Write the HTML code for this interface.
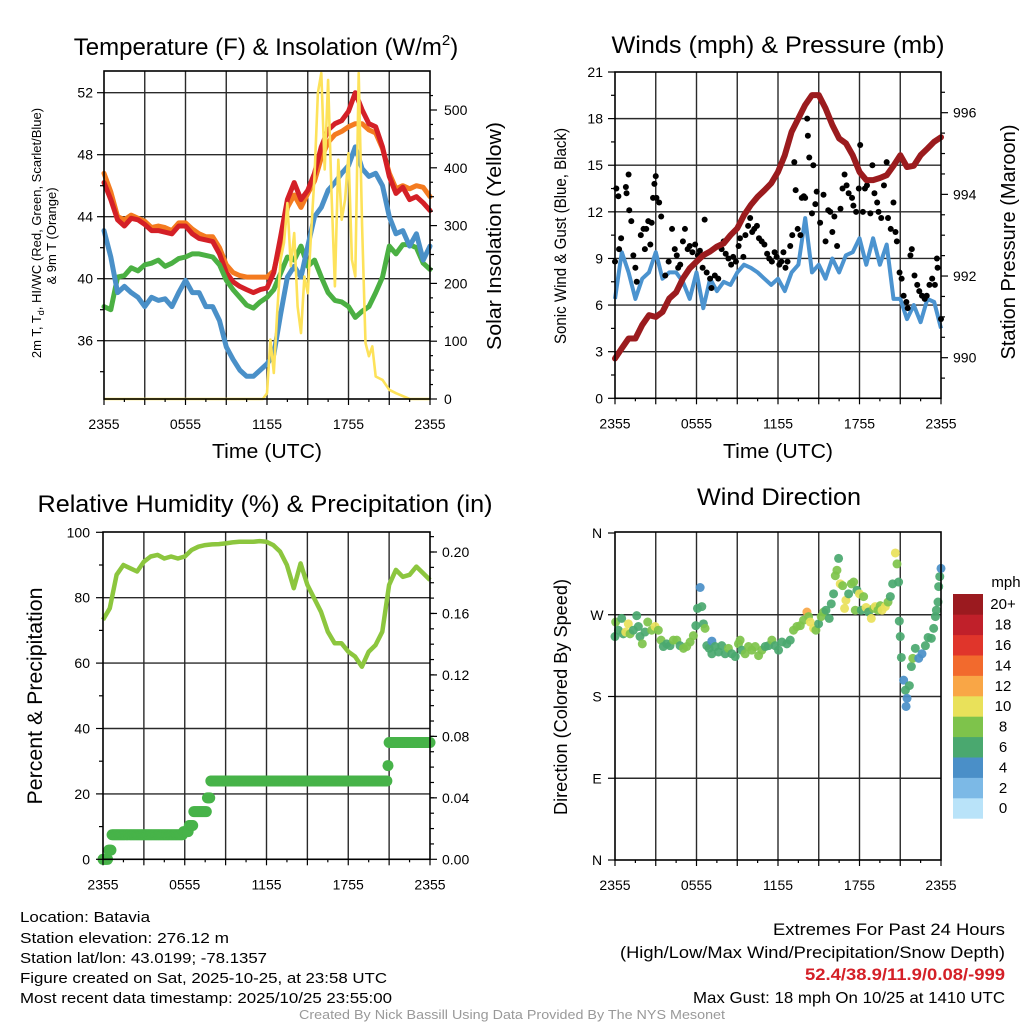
<!DOCTYPE html>
<html><head><meta charset="utf-8"><style>
html,body{margin:0;padding:0;background:#fff;}
svg{display:block;font-family:"Liberation Sans",Arial,sans-serif;}
</style></head><body>
<svg id="fig" width="1024" height="1024" viewBox="0 0 1024 1024" xmlns="http://www.w3.org/2000/svg">
<g id="g1"></g>
<g id="g2"></g>
<g id="g3"></g>
<g id="g4"></g>
<g id="footer">
<text x="20" y="922" font-size="15" lengthAdjust="spacingAndGlyphs" textLength="130">Location: Batavia</text>
<text x="20" y="943" font-size="15" lengthAdjust="spacingAndGlyphs" textLength="209">Station elevation: 276.12 m</text>
<text x="20" y="963" font-size="15" lengthAdjust="spacingAndGlyphs" textLength="247">Station lat/lon: 43.0199; -78.1357</text>
<text x="20" y="983" font-size="15" lengthAdjust="spacingAndGlyphs" textLength="367">Figure created on Sat, 2025-10-25, at 23:58 UTC</text>
<text x="20" y="1003" font-size="15" lengthAdjust="spacingAndGlyphs" textLength="372">Most recent data timestamp: 2025/10/25 23:55:00</text>
<text x="1005" y="935" font-size="16.5" text-anchor="end" lengthAdjust="spacingAndGlyphs" textLength="232">Extremes For Past 24 Hours</text>
<text x="1005" y="958" font-size="16.5" text-anchor="end" lengthAdjust="spacingAndGlyphs" textLength="385">(High/Low/Max Wind/Precipitation/Snow Depth)</text>
<text x="1005" y="980" font-size="16.5" font-weight="bold" fill="#d42027" text-anchor="end" lengthAdjust="spacingAndGlyphs" textLength="200">52.4/38.9/11.9/0.08/-999</text>
<text x="1005" y="1003" font-size="16" text-anchor="end" lengthAdjust="spacingAndGlyphs" textLength="312">Max Gust: 18 mph On 10/25 at 1410 UTC</text>
<text x="512" y="1019" font-size="13" fill="#999" text-anchor="middle" lengthAdjust="spacingAndGlyphs" textLength="426">Created By Nick Bassill Using Data Provided By The NYS Mesonet</text>
</g>
</svg>
<script>
// ---------- DATA ----------
const halfHours = [0,0.5,1,1.5,2,2.5,3,3.5,4,4.5,5,5.5,6,6.5,7,7.5,8,8.5,9,9.5,10,10.5,11,11.5,12,12.5,13,13.5,14,14.5,15,15.5,16,16.5,17,17.5,18,18.5,19,19.5,20,20.5,21,21.5,22,22.5,23,23.5,24];
const xTickLabels = ["2355","0555","1155","1755","2355"];
const tempRed = [46.2,45.1,43.8,43.4,43.9,43.8,43.5,43.1,43.1,43.0,42.9,43.4,43.4,42.9,42.6,42.5,42.4,41.6,40.4,39.8,39.5,39.3,39.1,39.3,39.4,40.4,42.7,45.1,46.2,45.1,45.7,46.8,48.5,49.6,50.0,50.2,50.8,52.0,50.9,50.0,49.8,48.5,46.6,45.5,45.9,45.1,45.3,44.9,44.4];
const tempOrange = [46.8,45.6,44.0,43.8,44.1,43.9,43.7,43.3,43.4,43.3,43.1,43.6,43.6,43.2,42.9,42.7,42.7,42.0,40.9,40.4,40.2,40.1,40.1,40.1,40.1,40.5,42.3,44.6,45.4,44.6,45.5,46.3,47.8,48.8,49.3,49.5,49.8,50.0,50.0,49.6,49.4,48.4,46.8,45.8,46.0,45.8,46.0,45.9,45.3];
const tempGreen = [38.2,38.0,40.1,40.2,40.7,40.5,40.9,41.0,41.2,40.8,41.0,41.3,41.4,41.6,41.6,41.5,41.4,40.9,39.9,39.3,38.8,38.3,38.1,38.5,38.8,39.3,40.35,41.4,41.2,42.1,40.8,41.2,40.1,39.1,38.6,38.5,38.2,37.5,37.9,38.2,39.1,40.1,42.1,41.6,42.2,42.2,42.0,41.0,40.6];
const tempBlue = [43.1,41.4,39.1,39.5,39.1,38.8,38.2,38.8,38.6,38.7,38.2,39.1,39.9,39.1,39.1,38.2,38.2,37.3,35.6,34.8,34.1,33.7,33.7,34.1,34.5,35.1,37.7,40.1,40.8,40.1,42.1,44.0,44.6,45.7,46.2,46.8,47.3,48.5,47.1,46.6,46.8,46.0,44.0,42.9,43.1,42.1,42.9,41.2,42.1];
const solarHours = [0,11.7,12,12.25,12.5,12.75,13,13.25,13.5,13.75,14,14.25,14.5,14.75,15,15.25,15.5,15.75,16,16.25,16.5,16.75,17,17.25,17.5,17.75,18,18.25,18.5,18.75,19,19.25,19.5,19.75,20,20.5,21,21.5,22,22.5,24];
const solarValues = [0,0,10,103,45,150,241,270,339,230,287,160,114,212,183,287,385,530,564,397,552,356,195,414,310,345,425,241,212,564,299,97,74,91,39,33,16,10,5,0,0];
const tempTicks = [36,40,44,48,52];
const solarTicks = [0,100,200,300,400,500];

const pressure = [989.98,990.23,990.47,990.47,990.8,991.04,991.0,991.12,991.45,991.6,991.94,992.19,992.35,992.51,992.6,992.72,992.8,993.0,993.17,993.49,993.74,993.94,994.1,994.27,994.55,994.96,995.53,995.86,996.19,996.43,996.43,996.11,995.7,995.37,995.25,994.96,994.55,994.35,994.35,994.4,994.47,994.7,994.96,994.67,994.7,994.96,995.12,995.29,995.4];
const sonicWind = [6.4,9.4,8.1,6.4,7.7,8.1,9.4,7.7,8.1,8.1,7.5,6.4,8.1,5.8,7.7,6.9,7.5,7.3,8.1,8.6,8.4,8.1,7.7,7.3,7.7,6.9,8.1,8.6,11.6,8.1,8.6,7.7,9.0,8.1,9.2,9.4,10.3,8.6,10.3,8.6,9.9,6.4,6.4,5.1,6.0,4.9,6.4,6.2,4.5];
const gustHours = [0,0.1,0.25,0.3,0.45,0.8,0.85,1,1.05,1.2,1.35,1.5,1.6,1.9,2.1,2.2,2.3,2.45,2.6,2.7,2.8,2.9,3,3.05,3.25,3.4,3.7,3.95,4.2,4.4,4.55,4.65,4.8,5,5.15,5.35,5.5,5.7,5.9,6.1,6.25,6.45,6.6,6.75,7,7.1,7.35,7.6,7.85,8,8.15,8.35,8.55,8.7,8.9,9.1,9.2,9.45,9.6,9.8,9.95,10.1,10.25,10.45,10.6,10.8,11,11.2,11.35,11.55,11.75,11.9,12.1,12.25,12.4,12.55,12.7,12.9,13.05,13.2,13.3,13.45,13.65,13.75,13.9,14,14.15,14.2,14.3,14.5,14.6,14.75,14.85,15.1,15.35,15.5,15.7,15.85,16,16.15,16.35,16.6,16.75,16.9,17.05,17.2,17.45,17.55,17.75,17.95,18.05,18.25,18.4,18.55,18.8,18.95,19.1,19.3,19.4,19.6,19.8,20,20.1,20.3,20.5,20.65,20.75,20.95,21.1,21.25,21.45,21.55,21.75,21.85,22.05,22.25,22.4,22.6,22.8,22.95,23.15,23.35,23.55,23.7,23.75,24];
const gustValues = [8.8,13.5,13.0,9.6,10.3,13.6,13.2,14.4,12.1,11.4,9.2,8.4,7.5,10.5,10.9,9.6,10.9,11.4,9.9,11.3,12.9,13.8,14.3,12.9,12.6,11.7,7.9,8.8,10.9,9.6,9.2,8.4,8.6,10.1,10.9,9.6,9.8,9.4,9.9,9.2,9.5,8.4,11.5,8.1,7.7,7.1,7.9,7.7,9.6,10.1,9.3,9.0,8.6,9.1,8.8,9.8,10.3,9.1,10.5,11.1,11.6,10.7,10.9,11.1,10.3,10.1,9.9,9.3,9.0,8.8,9.4,9.1,8.6,8.8,9.4,8.4,8.8,9.8,10.5,15.2,13.4,10.9,10.5,12.9,13.0,12.9,18.0,16.9,15.5,11.9,15.0,12.5,13.3,11.3,13.1,10.1,12.1,12.0,10.7,11.7,9.8,12.2,13.5,14.4,13.7,13.2,12.9,12.4,12.0,13.5,16.3,12.0,13.5,13.7,11.9,15.0,13.2,12.6,12.0,11.6,13.7,15.2,11.6,10.9,12.6,10.7,10.1,8.1,7.7,6.6,6.2,5.8,9.2,9.6,7.9,7.3,6.9,6.6,6.4,6.6,7.3,7.7,7.3,9.0,8.4,5.1];
const windTicks = [0,3,6,9,12,15,18,21];
const pressTicks = [990,992,994,996];

const rh = [73.2,76.8,87,90,89,88,91,92.6,93.1,92,92.6,92,92.6,94.6,95.6,96.1,96.3,96.4,96.6,96.9,97.1,97.1,97.1,97.3,97.1,96.1,94.1,90,82.9,90.5,83.9,79.8,75.7,69.6,66.1,66.1,63.5,62,58.9,63.5,65.5,69.6,83.9,88.5,86.4,87,89.5,87.5,85.4];
const precipHours = [0,0.4,0.6,5.9,6.3,6.6,7.6,7.9,20.9,21.0];
const precipValues = [0,0.006,0.016,0.018,0.022,0.031,0.04,0.051,0.061,0.076];
const rhTicks = [0,20,40,60,80,100];
const precipTicks = ["0.00","0.04","0.08","0.12","0.16","0.20"];

const dirHours = [0,0.05,0.25,0.49,0.61,0.79,0.98,1.11,1.35,1.6,1.72,1.84,2.01,2.21,2.41,2.7,2.95,3.19,3.39,3.56,3.81,4.05,4.3,4.55,4.79,5.04,5.28,5.53,5.77,5.95,6.07,6.27,6.39,6.51,6.63,6.76,6.93,7.13,7.13,7.37,7.62,7.86,8.11,8.35,8.6,8.85,9.09,9.21,9.34,9.58,9.83,10.07,10.32,10.57,10.81,11.06,11.3,11.55,11.79,12.04,12.29,12.65,12.9,13.14,13.39,13.64,13.88,14.13,14.25,14.37,14.62,14.79,14.99,15.18,15.36,15.53,15.77,15.92,16.09,16.22,16.34,16.46,16.58,16.76,16.9,17.0,17.2,17.4,17.57,17.69,17.81,17.99,18.13,18.3,18.48,18.67,18.87,19.04,19.16,19.36,19.53,19.66,19.9,20.1,20.27,20.44,20.64,20.76,20.88,20.93,21.0,21.08,21.25,21.38,21.5,21.43,21.67,21.82,21.92,22.11,22.36,22.6,22.85,23.05,23.29,23.46,23.59,23.66,23.78,23.83,23.91,24.0];
const dirDegrees = [246,262,253,266,249,251,260,249,253,269,257,246,238,251,262,253,257,253,242,235,238,236,242,242,236,233,235,240,247,258,277,300,279,260,255,236,233,241,227,235,229,236,227,233,227,224,238,242,231,227,235,231,235,225,231,235,236,242,236,231,240,238,242,253,257,258,264,273,268,262,255,253,260,268,273,275,266,282,293,313,319,332,304,302,277,286,293,304,306,275,297,293,275,290,278,273,266,277,279,275,280,275,279,284,290,304,338,326,306,263,246,223,198,187,178,169,192,213,222,233,222,227,236,245,244,255,268,275,284,301,312,321];
const dirSpeeds = [6,8,6,6,6,10,10,8,6,6,6,6,8,6,8,8,10,8,8,6,6,6,8,8,6,8,8,8,8,6,6,4,6,6,8,6,6,4,6,6,6,6,6,8,6,6,8,8,6,8,8,8,8,8,8,6,6,8,6,6,6,6,6,8,8,8,8,12,8,10,10,8,6,8,8,6,6,6,6,8,8,6,10,8,10,10,6,8,8,8,6,10,6,8,10,6,10,8,10,8,8,10,10,8,6,6,10,8,6,6,6,6,4,6,4,4,6,6,8,6,4,4,6,6,6,6,6,6,6,6,6,4];
const dirTicks = ["N","E","S","W","N"];
const speedLabels = ["0","2","4","6","8","10","12","14","16","18","20+"];
const speedColors = ["#b9e3f9","#7cb9e6","#4a8fc8","#4aa86f","#7ec34b","#e9e15a","#f9a646","#f26a2d","#e0352b","#c0202a","#9b1a1f"];

// ---------- HELPERS ----------
const NS="http://www.w3.org/2000/svg";
function mk(parent,tag,attrs,text){const e=document.createElementNS(NS,tag);for(const k in attrs)e.setAttribute(k,attrs[k]);if(text!==undefined)e.textContent=text;parent.appendChild(e);return e;}
function lin(d0,d1,r0,r1){return v=>r0+(v-d0)*(r1-r0)/(d1-d0);}
function pathFrom(xs,ys,fx,fy){return xs.map((x,i)=>(i?"L":"M")+fx(x).toFixed(1)+","+fy(ys[i]).toFixed(1)).join("");}

function frame(g,L,R,T,B,vgrid,hgridY){
  vgrid.forEach(x=>{const l=mk(g,"line",{x1:x,x2:x,y1:T,y2:B,stroke:"#2a2a2a","stroke-width":1.4});

});
  hgridY.forEach(y=>{const l=mk(g,"line",{x1:L,x2:R,y1:y,y2:y,stroke:"#2a2a2a","stroke-width":1.4});

});
}
function border(g,L,R,T,B){const r=mk(g,"rect",{x:L,y:T,width:R-L,height:B-T,fill:"none",stroke:"#000","stroke-width":1.6});

}
function tick(g,x1,y1,x2,y2){const t=mk(g,"line",{x1,y1,x2,y2,stroke:"#000","stroke-width":1.2});

}
function label(g,x,y,txt,size,anchor,name,extra){const t=mk(g,"text",Object.assign({x,y,"font-size":size,"text-anchor":anchor||"middle"},extra||{}),txt);

return t;}
function xAxis(g,fx,B){
  for(let h=0;h<=24;h+=3) tick(g,fx(h),B,fx(h),B+6);
  for(let h=1.5;h<24;h+=3) tick(g,fx(h),B,fx(h),B+3);
  xTickLabels.forEach((s,i)=>label(g,fx(i*6),B+30,s,14,"middle","x-tick-label"));
}

// ---------- PANEL 1 ----------
(function(){
  const g=document.getElementById("g1");
  const L=104,R=430,T=71,B=399;
  const fx=lin(0,24,L,R), fy=lin(52,36,92.7,340.7), fs=lin(0,500,B,110);
  const vg=[];for(let h=3;h<24;h+=3)vg.push(fx(h));
  frame(g,L,R,T,B,vg,tempTicks.map(fy));
  const series=[[tempOrange,"#f47b20","orange-9m-temp-line"],[tempRed,"#d42027","red-2m-temp-line"],[tempGreen,"#4bb043","green-hiwc-line"],[tempBlue,"#4a90c8","blue-dewpoint-line"]];
  series.forEach(s=>{const p=mk(g,"path",{d:pathFrom(halfHours,s[0],fx,fy),fill:"none",stroke:s[1],"stroke-width":5,"stroke-linejoin":"round","stroke-linecap":"round"});

});
  const sp=mk(g,"path",{d:pathFrom(solarHours,solarValues,fx,v=>Math.max(T,fs(v))),fill:"none",stroke:"#fde25a","stroke-width":2.6,"stroke-linejoin":"round"});
  
  
  border(g,L,R,T,B);
  tempTicks.forEach(v=>{tick(g,L-7,fy(v),L,fy(v));label(g,L-11,fy(v)+5,String(v),14,"end","temp-tick-label");});
  for(let v=34;v<=52;v+=2) if(v%4) tick(g,L-4,fy(v),L,fy(v));
  solarTicks.forEach(v=>{tick(g,R,fs(v),R+7,fs(v));label(g,R+14,fs(v)+5,String(v),14,"start","solar-tick-label");});
  for(let v=50;v<550;v+=100) tick(g,R,fs(v),R+4,fs(v));
  for(let v=25;v<550;v+=50) tick(g,R,fs(v),R+3,fs(v));
  xAxis(g,fx,B);
  label(g,267,458,"Time (UTC)",20,"middle","x-axis-title",{textLength:110,lengthAdjust:"spacingAndGlyphs"});
  const t=label(g,266,55,"Temperature (F) & Insolation (W/m",24,"middle","chart-title-temperature");
  mk(t,"tspan",{dy:-10,"font-size":15},"2");mk(t,"tspan",{dy:10},")");
  const yl=label(g,0,0,"2m T, T",13,"middle","y-axis-title-temperature",{transform:"translate(41,233) rotate(-90)"});
  mk(yl,"tspan",{dy:3,"font-size":9},"d");mk(yl,"tspan",{dy:-3},", HI/WC (Red, Green, Scarlet/Blue)");
  label(g,0,0,"& 9m T (Orange)",13,"middle","y-axis-title-temperature-2",{transform:"translate(56,236) rotate(-90)"});
  label(g,0,0,"Solar Insolation (Yellow)",20,"middle","y-axis-title-solar",{transform:"translate(501,236) rotate(-90)",textLength:228,lengthAdjust:"spacingAndGlyphs"});
})();

// ---------- PANEL 2 ----------
(function(){
  const g=document.getElementById("g2");
  const L=615,R=941,T=72,B=398.3;
  const fx=lin(0,24,L,R), fy=lin(0,21,B,72), fp=lin(990,996,357.7,112.7);
  const vg=[];for(let h=3;h<24;h+=3)vg.push(fx(h));
  frame(g,L,R,T,B,vg,windTicks.slice(1,-1).map(fy));
  const wp=mk(g,"path",{d:pathFrom(halfHours,sonicWind,fx,fy),fill:"none",stroke:"#4b93cf","stroke-width":4,"stroke-linejoin":"round"});
  
  
  gustHours.forEach((h,i)=>{const c=mk(g,"circle",{cx:fx(h),cy:fy(gustValues[i]),r:3,fill:"#000"});

});
  const pp=mk(g,"path",{d:pathFrom(halfHours,pressure,fx,fp),fill:"none",stroke:"#9b1b1e","stroke-width":6,"stroke-linejoin":"round","stroke-linecap":"round"});
  
  
  border(g,L,R,T,B);
  windTicks.forEach(v=>{tick(g,L-7,fy(v),L,fy(v));label(g,L-12,fy(v)+5,String(v),14,"end","wind-tick-label");});
  for(let v=1.5;v<21;v+=3) tick(g,L-4,fy(v),L,fy(v));
  pressTicks.forEach(v=>{tick(g,R,fp(v),R+7,fp(v));label(g,R+12,fp(v)+5,String(v),14,"start","pressure-tick-label");});
  for(let v=989;v<=997;v+=0.5) if(v%2 && fp(v)>T && fp(v)<B) tick(g,R,fp(v),R+4,fp(v));
  xAxis(g,fx,B);
  label(g,778,458,"Time (UTC)",20,"middle","x-axis-title",{textLength:110,lengthAdjust:"spacingAndGlyphs"});
  label(g,778,53,"Winds (mph) & Pressure (mb)",24,"middle","chart-title-winds",{textLength:333,lengthAdjust:"spacingAndGlyphs"});
  label(g,0,0,"Sonic Wind & Gust (Blue, Black)",17,"middle","y-axis-title-wind",{transform:"translate(566,236) rotate(-90)",textLength:216,lengthAdjust:"spacingAndGlyphs"});
  label(g,0,0,"Station Pressure (Maroon)",20,"middle","y-axis-title-pressure",{transform:"translate(1015,242) rotate(-90)",textLength:235,lengthAdjust:"spacingAndGlyphs"});
})();

// ---------- PANEL 3 ----------
(function(){
  const g=document.getElementById("g3");
  const L=103,R=430,T=532,B=859.3;
  const fx=lin(0,24,L,R), fy=lin(0,100,B,532.3), fp=lin(0,0.2,B,552);
  const vg=[];for(let h=3;h<24;h+=3)vg.push(fx(h));
  frame(g,L,R,T,B,vg,rhTicks.slice(1,-1).map(fy));
  const rp=mk(g,"path",{d:pathFrom(halfHours,rh,fx,fy),fill:"none",stroke:"#8cc63e","stroke-width":4.5,"stroke-linejoin":"round"});
  
  
  for(let m=0;m<=24*12;m++){const h=m/12;let v=0;precipHours.forEach((ph,i)=>{if(h>=ph)v=precipValues[i];});
    const c=mk(g,"circle",{cx:fx(h),cy:fp(v),r:5.5,fill:"#47b349"});
    
    }
  border(g,L,R,T,B);
  rhTicks.forEach(v=>{tick(g,L-7,fy(v),L,fy(v));label(g,L-13,fy(v)+5,String(v),14,"end","rh-tick-label");});
  for(let v=10;v<100;v+=20) tick(g,L-4,fy(v),L,fy(v));
  precipTicks.forEach(s=>{const v=parseFloat(s);tick(g,R,fp(v),R+7,fp(v));label(g,R+12,fp(v)+5,s,14,"start","precip-tick-label");});
  for(let v=0.01;v<0.215;v+=0.01) tick(g,R,fp(v),R+4,fp(v));
  xAxis(g,fx,B);
  label(g,265,512,"Relative Humidity (%) & Precipitation (in)",24,"middle","chart-title-humidity",{textLength:455,lengthAdjust:"spacingAndGlyphs"});
  label(g,0,0,"Percent & Precipitation",21,"middle","y-axis-title-percent",{transform:"translate(42,696) rotate(-90)",textLength:217,lengthAdjust:"spacingAndGlyphs"});
})();

// ---------- PANEL 4 ----------
(function(){
  const g=document.getElementById("g4");
  const L=615,R=941,T=532,B=860;
  const fx=lin(0,24,L,R), fy=lin(0,360,B,T+1);
  const vg=[];for(let h=3;h<24;h+=3)vg.push(fx(h));
  frame(g,L,R,T,B,vg,[90,180,270].map(fy));
  dirHours.forEach((h,i)=>{const idx=Math.min(10,Math.round(dirSpeeds[i]/2));
    const c=mk(g,"circle",{cx:fx(h),cy:fy(dirDegrees[i]),r:4.5,fill:speedColors[idx],"fill-opacity":0.92});
    
    });
  border(g,L,R,T,B);
  dirTicks.forEach((s,i)=>{const y=fy(i*90);tick(g,L-7,y,L,y);label(g,L-18,y+5,s,14,"middle","direction-tick-label");});
  xAxis(g,fx,B);
  label(g,779,505,"Wind Direction",24,"middle","chart-title-direction",{textLength:164,lengthAdjust:"spacingAndGlyphs"});
  label(g,0,0,"Direction (Colored By Speed)",18,"middle","y-axis-title-direction",{transform:"translate(567,697) rotate(-90)",textLength:236,lengthAdjust:"spacingAndGlyphs"});
  const cb=mk(g,"g",{});
  
  
  const top=594,bh=20.4;
  speedColors.forEach((c,i)=>{const y=top+(10-i)*bh;const r=mk(cb,"rect",{x:953,y:y,width:30,height:bh+0.3,fill:c});


label(cb,1003,y+bh/2+5,speedLabels[i],15,"middle","colorbar-label");});
  label(cb,1006,587,"mph",15,"middle","colorbar-title");
})();
</script>
</body></html>
